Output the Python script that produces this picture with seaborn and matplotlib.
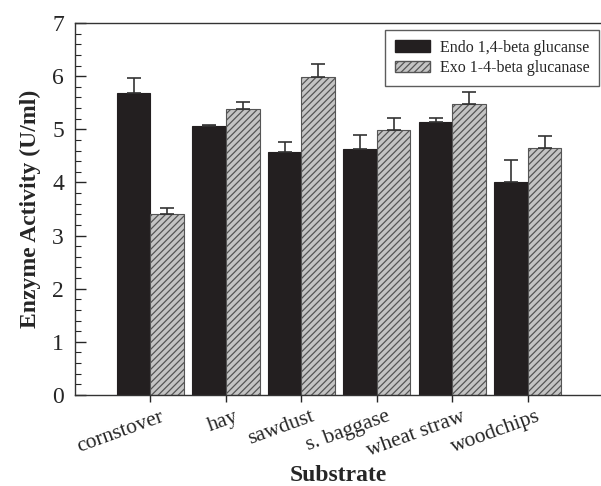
import matplotlib
matplotlib.use("Agg")
import matplotlib.pyplot as plt
import matplotlib.transforms as mtransforms
import seaborn as sns
import pandas as pd
import numpy as np
from matplotlib.ticker import MultipleLocator

substrates = ["cornstover", "hay", "sawdust", "s. baggase", "wheat straw", "woodchips"]
endo_vals = [5.68, 5.06, 4.58, 4.63, 5.13, 4.01]
endo_err = [0.29, 0.03, 0.18, 0.26, 0.08, 0.41]
exo_vals = [3.40, 5.39, 5.98, 4.99, 5.48, 4.65]
exo_err = [0.12, 0.13, 0.24, 0.23, 0.23, 0.23]
series = ["Endo 1,4-beta glucanse", "Exo 1-4-beta glucanase"]

df = pd.DataFrame({
    "Substrate": substrates * 2,
    "Activity": endo_vals + exo_vals,
    "Enzyme": [series[0]] * 6 + [series[1]] * 6,
})

sns.set_style("ticks")
plt.rcParams["font.family"] = ["Liberation Serif", "DejaVu Serif"]
plt.rcParams["hatch.color"] = "#3a3a3a"
plt.rcParams["hatch.linewidth"] = 0.9

fig = plt.figure(figsize=(6.01, 4.86), dpi=100)
ax = fig.add_axes([75 / 601, 91 / 486, 526 / 601, 372 / 486])

sns.barplot(data=df, x="Substrate", y="Activity", hue="Enzyme", order=substrates,
            hue_order=series, palette=["#231f20", "#c4c4c4"], width=0.89, gap=0,
            errorbar=None, saturation=1, ax=ax, legend=True)

n = len(substrates)
patches = [p for p in ax.patches if p.get_height() > 0][:2 * n]
for i, p in enumerate(patches):
    if i < n:
        p.set_edgecolor("#231f20")
        p.set_linewidth(0.8)
        err = endo_err[i]
    else:
        p.set_hatch("/////")
        p.set_edgecolor("#555555")
        p.set_linewidth(0.8)
        err = exo_err[i - n]
    xc = p.get_x() + p.get_width() / 2
    ax.errorbar([xc], [p.get_height()], yerr=[[0], [err]], fmt="none",
                ecolor="#333333", elinewidth=1.2, capsize=5, capthick=1.2)

ax.set_ylim(0, 7)
ax.set_xlim(-1.0, 5.97)
ax.yaxis.set_major_locator(MultipleLocator(1))
ax.yaxis.set_minor_locator(MultipleLocator(0.2))
ax.tick_params(axis="y", which="major", direction="in", length=8, width=1, labelsize=17, pad=8)
ax.tick_params(axis="y", which="minor", direction="in", length=4, width=0.8)
ax.tick_params(axis="x", which="major", direction="out", length=5, width=1, labelsize=15.5, pad=4)
plt.setp(ax.get_xticklabels(), rotation=20, ha="right", rotation_mode="anchor")
offset = mtransforms.ScaledTranslation(0.09, 0, fig.dpi_scale_trans)
for lbl in ax.get_xticklabels():
    lbl.set_transform(lbl.get_transform() + offset)

for s in ["left", "bottom", "top"]:
    ax.spines[s].set_visible(True)
    ax.spines[s].set_color("#333333")
    ax.spines[s].set_linewidth(1.0)
ax.spines["right"].set_visible(False)

ax.set_ylabel("Enzyme Activity (U/ml)", fontsize=17, fontweight="bold", labelpad=8)
ax.set_xlabel("Substrate", fontsize=17, fontweight="bold", labelpad=3)

leg = ax.legend(loc="upper right", bbox_to_anchor=(0.996, 0.981), fontsize=11.5,
                frameon=True, fancybox=False, edgecolor="#333333", borderpad=0.6,
                handlelength=2.2, handleheight=0.7, labelspacing=0.3, handletextpad=0.6,
                borderaxespad=0)
leg.get_frame().set_linewidth(1.0)
hs = leg.legend_handles
hs[0].set_edgecolor("#231f20")
hs[1].set_hatch("/////")
hs[1].set_edgecolor("#555555")

fig.savefig("out.png", dpi=100)
